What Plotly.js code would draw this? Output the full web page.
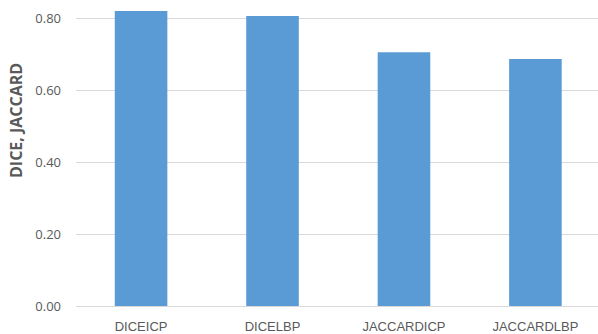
<!DOCTYPE html>
<html>
<head>
<meta charset="utf-8">
<script src="https://cdn.plot.ly/plotly-3.0.1.min.js"></script>
<style>
  html, body { margin: 0; padding: 0; background: #fff; }
  #chart { width: 598px; height: 334px; }
</style>
</head>
<body>
<div id="chart"></div>
<script>
// Segmentation scores per method
const categories = ['DICEICP', 'DICELBP', 'JACCARDICP', 'JACCARDLBP'];
const scores = [0.821, 0.807, 0.706, 0.687];
const yTickValues = [0, 0.2, 0.4, 0.6, 0.8];
const yTickLabels = ['0.00', '0.20', '0.40', '0.60', '0.80'];
const yTitle = 'DICE, JACCARD';

const trace = {
  type: 'bar',
  x: [0, 1, 2, 3],
  y: scores,
  marker: { color: '#5B9BD5' },
  hoverinfo: 'skip'
};

const layout = {
  width: 598,
  height: 334,
  margin: { l: 76, r: 0, t: 0, b: 28 },
  paper_bgcolor: '#ffffff',
  plot_bgcolor: '#ffffff',
  showlegend: false,
  bargap: 0.6,
  xaxis: {
    range: [-0.495, 3.476],
    tickvals: [0, 1, 2, 3],
    ticktext: categories,
    showgrid: false,
    zeroline: false,
    showline: false,
    ticks: '',
    ticklabelstandoff: 11,
    tickfont: { family: 'Liberation Sans Narrow, Liberation Sans, sans-serif', size: 13, color: '#595959' }
  },
  yaxis: {
    range: [0, 0.8514],
    tickvals: yTickValues,
    ticktext: yTickLabels,
    showgrid: true,
    gridcolor: '#D9D9D9',
    gridwidth: 1,
    zeroline: true,
    zerolinecolor: '#D9D9D9',
    zerolinewidth: 1,
    showline: false,
    ticks: '',
    ticklabelstandoff: 14,
    tickfont: { family: 'Open Sans, Liberation Sans, sans-serif', size: 13, color: '#595959' }
  },
  annotations: [{
    text: '<b>' + yTitle + '</b>',
    xref: 'paper', yref: 'paper',
    x: -0.1135, y: 0.607,
    xanchor: 'center', yanchor: 'middle',
    textangle: -90,
    showarrow: false,
    font: { family: 'Open Sans, Liberation Sans, sans-serif', size: 16, color: '#595959' }
  }]
};

Plotly.newPlot('chart', [trace], layout, { displayModeBar: false, staticPlot: true });
</script>
</body>
</html>
